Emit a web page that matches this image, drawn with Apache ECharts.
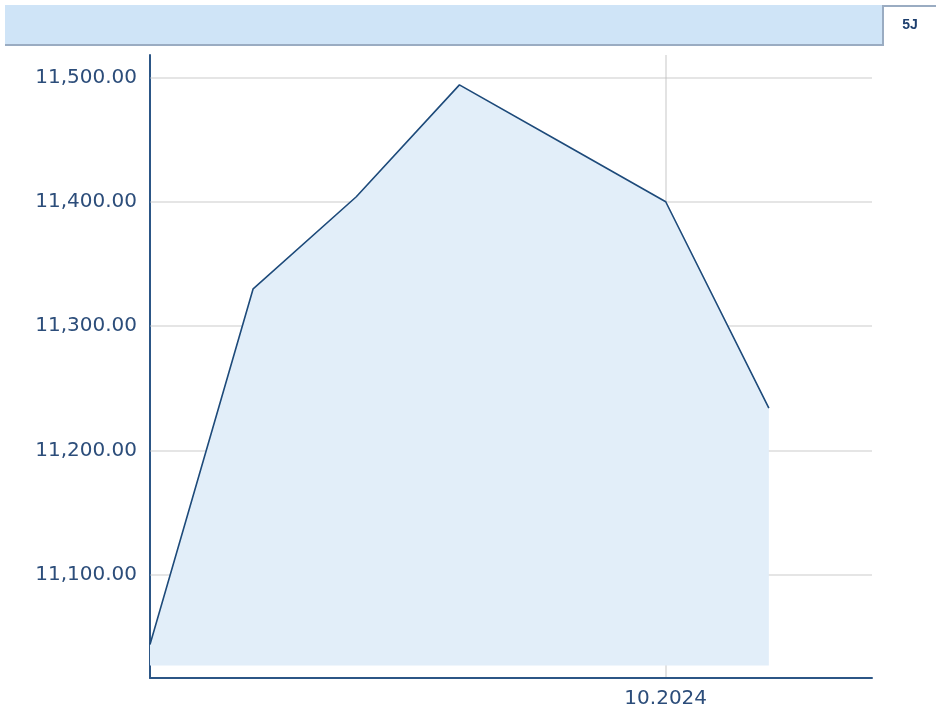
<!DOCTYPE html>
<html><head><meta charset="utf-8">
<script src="https://cdn.jsdelivr.net/npm/echarts@6/dist/echarts.min.js"></script>
<style>html,body{margin:0;padding:0;background:#fff}#c{width:936px;height:709px}</style>
</head><body><div id="c"></div>
<script>
const categories = ['05.2024','06.2024','07.2024','08.2024','09.2024','10.2024','11.2024','12.2024'];
const values = [11044, 11330, 11404, 11494, 11447, 11400, 11234];
const yTicks = [11100, 11200, 11300, 11400, 11500];
const shownXLabels = ['10.2024'];
const periodLabel = '5J';
const yMin = 11017, yMax = 11518, areaBase = 11027;

const chart = echarts.init(document.getElementById('c'), null, {renderer:'canvas'});
const fmt = v => v.toLocaleString('en-US',{minimumFractionDigits:2, maximumFractionDigits:2});
chart.setOption({
  animation:false,
  grid:{left:150, right:64, top:55, bottom:31, containLabel:false},
  graphic:[
    {type:'rect', shape:{x:5,y:5,width:878,height:40}, style:{fill:'#cfe4f7'}, z:1},
    {type:'rect', shape:{x:5,y:44,width:878,height:2}, style:{fill:'#9aacc2'}, z:2},
    {type:'rect', shape:{x:882,y:5,width:2,height:41}, style:{fill:'#9aacc2'}, z:2},
    {type:'rect', shape:{x:882,y:5,width:54,height:2}, style:{fill:'#9aacc2'}, z:2},
    {type:'text', x:910, y:25, style:{text:periodLabel, fill:'#1d3f6e', font:'bold 14px Arial, "Liberation Sans"', align:'center', verticalAlign:'middle'}, z:3}
  ],
  xAxis:{
    type:'category', data:categories, boundaryGap:false,
    axisLine:{lineStyle:{color:'#2c5686', width:2}},
    axisTick:{show:false},
    axisLabel:{interval:(i,v)=>shownXLabels.includes(v), color:'#2c4d7a', fontFamily:'DejaVu Sans', fontSize:20, margin:11},
    splitLine:{show:true, interval:(i,v)=>shownXLabels.includes(v), lineStyle:{color:'#e3e3e3', width:2}}
  },
  yAxis:{
    type:'value', min:yMin, max:yMax,
    axisLine:{show:true, lineStyle:{color:'#2c5686', width:2}},
    axisTick:{show:false},
    splitLine:{show:false},
    axisLabel:{customValues:yTicks, formatter:fmt, color:'#2c4d7a', fontFamily:'DejaVu Sans', fontSize:20, margin:13}
  },
  series:[{
    type:'line', data:values, symbol:'none',
    lineStyle:{color:'#1d4a7a', width:1.6},
    areaStyle:{color:'#e2eef9', origin:areaBase, opacity:1},
    markLine:{silent:true, symbol:['none','none'], label:{show:false}, z:3,
      lineStyle:{color:'rgba(190,190,190,0.4)', width:2, type:'solid'},
      data:yTicks.map(v=>({yAxis:v}))}
  }]
});
</script></body></html>
